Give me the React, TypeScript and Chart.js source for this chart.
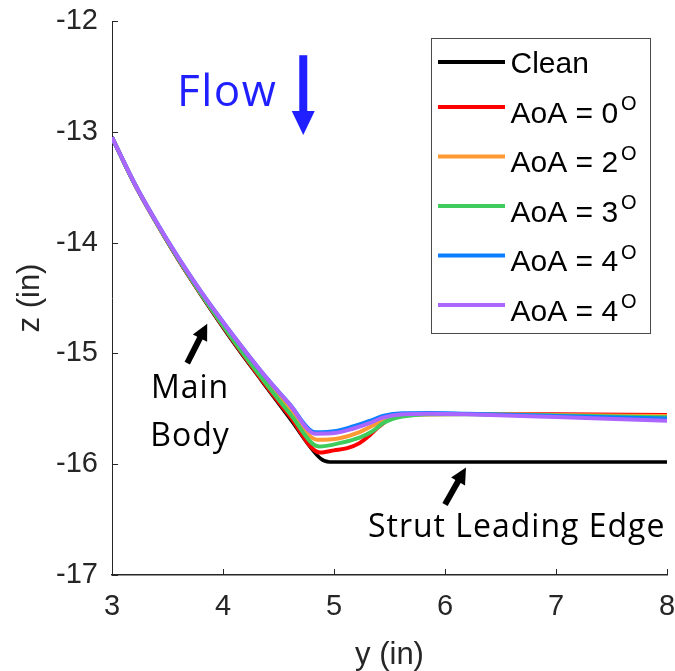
import React, { useEffect, useRef } from 'react';
import { Chart, registerables } from 'chart.js';

Chart.register(...registerables);

// ---- data (y in inches -> horizontal, z in inches -> vertical) ----
const xTicks = [3, 4, 5, 6, 7, 8];
const zTicks = [-17, -16, -15, -14, -13, -12];

const cleanY = [3.0, 3.2, 3.4, 3.6, 3.8, 4.1, 4.35, 4.6, 4.88, 4.96, 5.5, 6.5, 8.0];
const cleanZ = [-13.05, -13.465, -13.825, -14.16, -14.47, -14.91, -15.25, -15.585, -15.95, -15.98, -15.98, -15.98, -15.98];

const aoa0Y = [3.0, 3.2, 3.4, 3.6, 3.8, 4.1, 4.35, 4.6, 4.875, 5.0, 5.12, 5.23, 5.32, 5.4, 5.48, 5.6, 5.8, 6.2, 7.0, 8.0];
const aoa0Z = [-13.05, -13.464, -13.823, -14.157, -14.465, -14.9, -15.24, -15.565, -15.895, -15.875, -15.855, -15.81, -15.74, -15.665, -15.605, -15.565, -15.55, -15.548, -15.55, -15.556];

const aoa2Y = [3.0, 3.2, 3.4, 3.6, 3.8, 4.1, 4.35, 4.6, 4.85, 5.05, 5.23, 5.35, 5.45, 5.6, 5.8, 6.2, 7.0, 8.0];
const aoa2Z = [-13.05, -13.462, -13.818, -14.148, -14.455, -14.875, -15.205, -15.5, -15.78, -15.765, -15.71, -15.65, -15.6, -15.565, -15.55, -15.548, -15.555, -15.565];

const aoa3Y = [3.0, 3.2, 3.4, 3.6, 3.8, 4.1, 4.35, 4.6, 4.865, 5.05, 5.23, 5.35, 5.44, 5.53, 5.65, 5.85, 6.2, 7.0, 8.0];
const aoa3Z = [-13.05, -13.463, -13.82, -14.152, -14.46, -14.89, -15.225, -15.54, -15.84, -15.81, -15.76, -15.7, -15.63, -15.59, -15.565, -15.55, -15.55, -15.56, -15.577];

const aoa4aY = [3.0, 3.2, 3.4, 3.6, 3.8, 4.1, 4.35, 4.6, 4.83, 5.02, 5.17, 5.32, 5.44, 5.62, 5.86, 6.2, 7.0, 8.0];
const aoa4aZ = [-13.05, -13.46, -13.815, -14.14, -14.44, -14.85, -15.17, -15.458, -15.712, -15.7, -15.66, -15.61, -15.565, -15.54, -15.538, -15.545, -15.565, -15.588];

const aoa4bY = [3.0, 3.2, 3.4, 3.6, 3.8, 4.1, 4.35, 4.6, 4.83, 5.02, 5.17, 5.32, 5.44, 5.62, 5.86, 6.2, 7.0, 8.0];
const aoa4bZ = [-13.05, -13.46, -13.815, -14.14, -14.44, -14.85, -15.17, -15.46, -15.725, -15.717, -15.68, -15.63, -15.58, -15.55, -15.545, -15.55, -15.575, -15.608];

const seriesNames = ['Clean', 'AoA = 0', 'AoA = 2', 'AoA = 3', 'AoA = 4', 'AoA = 4'];
const seriesSup = ['', 'O', 'O', 'O', 'O', 'O'];
const seriesColors = ['#000000', '#ff0000', '#ff9933', '#3fcc5c', '#0a7fff', '#aa66ff'];
const seriesX = [cleanY, aoa0Y, aoa2Y, aoa3Y, aoa4aY, aoa4bY];
const seriesZ = [cleanZ, aoa0Z, aoa2Z, aoa3Z, aoa4aZ, aoa4bZ];

// annotation anchors, in data coordinates
const flowText = { text: 'Flow', x: 3.586, z: -12.768 };
const flowArrow = { x: 4.723, zFrom: -12.309, zTo: -13.03 };
const mainBodyText = { lines: ['Main', 'Body'], x: 3.703, z: -15.399 };
const mainBodyArrow = { x1: 3.678, z1: -15.087, x2: 3.858, z2: -14.733 };
const strutText = { text: 'Strut Leading Edge', x: 6.646, z: -16.654 };
const strutArrow = { x1: 6.0, z1: -16.363, x2: 6.189, z2: -16.03 };

const ANNOT_FONT = '"Open Sans", Lato, sans-serif';
const AXIS_FONT = '"Liberation Sans", Arial, sans-serif';

function drawArrow(ctx: CanvasRenderingContext2D, x1: number, y1: number, x2: number, y2: number,
  shaftW: number, headLen: number, headW: number, color: string) {
  const dx = x2 - x1, dy = y2 - y1;
  const len = Math.hypot(dx, dy);
  const ux = dx / len, uy = dy / len;
  const px = -uy, py = ux;
  const bx = x2 - ux * headLen, by = y2 - uy * headLen;
  ctx.save();
  ctx.strokeStyle = color;
  ctx.fillStyle = color;
  ctx.lineWidth = shaftW;
  ctx.lineCap = 'butt';
  ctx.beginPath();
  ctx.moveTo(x1, y1);
  ctx.lineTo(bx + ux * 1, by + uy * 1);
  ctx.stroke();
  ctx.beginPath();
  ctx.moveTo(x2, y2);
  ctx.lineTo(bx + px * headW / 2, by + py * headW / 2);
  ctx.lineTo(bx - px * headW / 2, by - py * headW / 2);
  ctx.closePath();
  ctx.fill();
  ctx.restore();
}

const annotPlugin = {
  id: 'annotations',
  afterDraw(chart: any) {
    const ctx: any = chart.ctx;
    const xs = chart.scales.x;
    const ys = chart.scales.y;
    const area = chart.chartArea;
    const X = (v: number) => xs.getPixelForValue(v);
    const Y = (v: number) => ys.getPixelForValue(v);

    // inward tick marks
    ctx.save();
    ctx.strokeStyle = '#262626';
    ctx.lineWidth = 1;
    ctx.beginPath();
    xTicks.forEach((v) => {
      const px = Math.round(X(v)) + 0.5;
      ctx.moveTo(px, area.bottom);
      ctx.lineTo(px, area.bottom - 6);
    });
    zTicks.forEach((v) => {
      const py = Math.round(Y(v)) + 0.5;
      ctx.moveTo(area.left, py);
      ctx.lineTo(area.left + 6, py);
    });
    ctx.stroke();
    ctx.restore();

    // Flow label + arrow
    ctx.save();
    ctx.fillStyle = '#1f1fff';
    ctx.font = `44px ${ANNOT_FONT}`;
    ctx.letterSpacing = '1.5px';
    ctx.textAlign = 'left';
    ctx.textBaseline = 'alphabetic';
    ctx.fillText(flowText.text, X(flowText.x), Y(flowText.z));
    ctx.restore();
    drawArrow(ctx, X(flowArrow.x), Y(flowArrow.zFrom), X(flowArrow.x), Y(flowArrow.zTo), 8, 24, 23, '#1f1fff');

    // Main Body / Strut Leading Edge
    ctx.save();
    ctx.fillStyle = '#000';
    ctx.font = `32px ${ANNOT_FONT}`;
    ctx.letterSpacing = '1px';
    ctx.textAlign = 'center';
    ctx.textBaseline = 'alphabetic';
    mainBodyText.lines.forEach((t, i) => {
      ctx.fillText(t, X(mainBodyText.x), Y(mainBodyText.z) + i * 48);
    });
    ctx.fillText(strutText.text, X(strutText.x), Y(strutText.z));
    ctx.restore();
    drawArrow(ctx, X(mainBodyArrow.x1), Y(mainBodyArrow.z1), X(mainBodyArrow.x2), Y(mainBodyArrow.z2), 6, 16, 16, '#000');
    drawArrow(ctx, X(strutArrow.x1), Y(strutArrow.z1), X(strutArrow.x2), Y(strutArrow.z2), 6, 16, 16, '#000');

    // legend box
    const bx = 431.5, by = 38.5, bw = 219, bh = 295;
    ctx.save();
    ctx.fillStyle = '#ffffff';
    ctx.fillRect(bx, by, bw, bh);
    ctx.strokeStyle = '#4a4a4a';
    ctx.lineWidth = 1;
    ctx.strokeRect(bx, by, bw, bh);
    seriesNames.forEach((name, i) => {
      const ly = i === 0 ? 62 : 107 + (i - 1) * 49.5;
      ctx.strokeStyle = seriesColors[i];
      ctx.lineWidth = 4;
      ctx.beginPath();
      ctx.moveTo(438, ly);
      ctx.lineTo(505, ly);
      ctx.stroke();
      ctx.fillStyle = '#000';
      ctx.font = `30px ${AXIS_FONT}`;
      ctx.textAlign = 'left';
      ctx.textBaseline = 'alphabetic';
      const base = seriesSup[i] ? ly + 15.5 : ly + 11;
      ctx.fillText(name, 510.5, base);
      if (seriesSup[i]) {
        const w = ctx.measureText(name).width;
        ctx.font = `20px ${AXIS_FONT}`;
        ctx.fillText(seriesSup[i], 510.5 + w + 3, ly + 3);
      }
    });
    ctx.restore();
  },
};

export default function App() {
  const canvasRef = useRef<HTMLCanvasElement | null>(null);

  useEffect(() => {
    document.body.style.margin = '0';
    const canvas = canvasRef.current;
    if (!canvas) return;
    const datasets = seriesNames.map((name, i) => ({
      label: name,
      data: seriesX[i].map((x, j) => ({ x, y: seriesZ[i][j] })),
      borderColor: seriesColors[i],
      backgroundColor: seriesColors[i],
      borderWidth: i === 0 ? 3.5 : 4,
      pointRadius: 0,
      fill: false,
      cubicInterpolationMode: 'monotone' as const,
      order: 5 - i,
    }));
    const chart = new Chart(canvas, {
      type: 'line',
      data: { datasets },
      options: {
        responsive: false,
        animation: false,
        events: [],
        layout: { padding: { top: 21, right: 8, left: 0, bottom: 0 } },
        plugins: { legend: { display: false }, tooltip: { enabled: false } },
        scales: {
          x: {
            type: 'linear',
            min: 3,
            max: 8,
            afterFit: (s: any) => {
              s.height = 96;
              s.paddingLeft = 0; s.paddingRight = 0; s.paddingTop = 0; s.paddingBottom = 0;
            },
            afterBuildTicks: (s: any) => { s.ticks = xTicks.map((v) => ({ value: v })); },
            grid: { display: false, drawTicks: false },
            border: { display: true, color: '#262626', width: 1.5 },
            ticks: {
              padding: 15,
              color: '#262626',
              font: { family: AXIS_FONT, size: 29 },
              maxRotation: 0,
              autoSkip: false,
            },
            title: {
              display: true,
              text: 'y (in)',
              color: '#262626',
              font: { family: AXIS_FONT, size: 31, lineHeight: 1.03 },
              padding: { top: 0, bottom: 0 },
            },
          },
          y: {
            type: 'linear',
            min: -17,
            max: -12,
            afterFit: (s: any) => {
              s.width = 112;
              s.paddingLeft = 0; s.paddingRight = 0; s.paddingTop = 0; s.paddingBottom = 0;
            },
            afterBuildTicks: (s: any) => { s.ticks = zTicks.map((v) => ({ value: v })); },
            grid: { display: false, drawTicks: false },
            border: { display: true, color: '#262626', width: 1 },
            ticks: {
              padding: 14,
              color: '#262626',
              font: { family: AXIS_FONT, size: 29 },
              autoSkip: false,
            },
            title: {
              display: true,
              text: 'z (in)',
              color: '#262626',
              font: { family: AXIS_FONT, size: 31, lineHeight: 1.03 },
              padding: { top: 14, bottom: 0 },
            },
          },
        },
      },
      plugins: [annotPlugin],
    });
    return () => chart.destroy();
  }, []);

  return (
    <div style={{ position: 'absolute', left: 0, top: 0, width: 675, height: 671, background: '#fff' }}>
      <canvas ref={canvasRef} width={675} height={671} style={{ display: 'block' }} />
    </div>
  );
}
